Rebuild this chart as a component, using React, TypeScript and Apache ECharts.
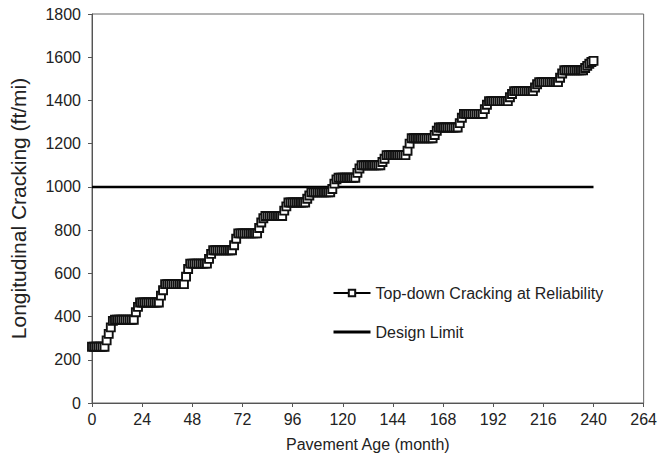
import React, { useEffect, useRef } from "react";
import * as echarts from "echarts";

// Change points [month, value]: value holds until the next change point (step series)
const crackingChangePoints: [number, number][] = [
  [0, 260], [7, 290], [8, 320], [9, 350], [10, 380], [11, 385],
  [21, 420], [22, 445], [23, 465],
  [33, 497], [34, 522], [35, 550],
  [45, 585], [46, 620], [47, 645],
  [56, 667], [57, 690], [58, 707],
  [68, 730], [69, 760], [70, 785],
  [80, 810], [81, 835], [82, 855], [83, 865],
  [92, 890], [93, 910], [94, 928],
  [103, 945], [104, 960], [105, 975],
  [115, 990], [116, 1015], [117, 1035], [118, 1042],
  [127, 1065], [128, 1085], [129, 1100],
  [139, 1115], [140, 1130], [141, 1147],
  [151, 1167], [152, 1200], [153, 1225],
  [164, 1240], [165, 1260], [166, 1275],
  [176, 1295], [177, 1320], [178, 1338],
  [188, 1360], [189, 1380], [190, 1397],
  [200, 1415], [201, 1430], [202, 1443],
  [212, 1460], [213, 1475], [214, 1485],
  [224, 1505], [225, 1525], [226, 1540],
  [236, 1550], [237, 1560], [238, 1570], [239, 1578], [240, 1583],
];
const lastMonth = 240;
const designLimitValue = 1000;
const designLimitMonths = [0, 240];
const xTicks = { min: 0, max: 264, interval: 24 };
const yTicks = { min: 0, max: 1800, interval: 200 };
const seriesNames = ["Top-down Cracking at Reliability", "Design Limit"];
const xAxisName = "Pavement Age (month)";
const yAxisName = "Longitudinal Cracking (ft/mi)";

function buildMonthly(): [number, number][] {
  const out: [number, number][] = [];
  let idx = 0;
  for (let m = 0; m <= lastMonth; m++) {
    while (idx + 1 < crackingChangePoints.length && crackingChangePoints[idx + 1][0] <= m) idx++;
    out.push([m, crackingChangePoints[idx][1]]);
  }
  return out;
}

export default function App() {
  const ref = useRef<HTMLDivElement>(null);
  useEffect(() => {
    if (!ref.current) return;
    const chart = echarts.init(ref.current, null, { renderer: "svg" });
    const font = "'Liberation Sans', Arial, sans-serif";
    const textColor = "#222";
    const clear = "rgba(0,0,0,0)";
    chart.setOption({
      animation: false,
      backgroundColor: "#fff",
      textStyle: { fontFamily: font },
      grid: {
        left: 92, right: 12, top: 14, bottom: 67,
        show: true, borderColor: "#666", borderWidth: 1, backgroundColor: "transparent",
      },
      legend: {
        orient: "vertical",
        left: 327,
        top: 280,
        itemGap: 23,
        itemWidth: 37,
        itemHeight: 8,
        textStyle: { fontFamily: font, fontSize: 16, color: textColor },
        data: [
          { name: seriesNames[0], lineStyle: { width: 2 } },
          {
            name: seriesNames[1],
            itemStyle: { color: clear, borderColor: clear, borderWidth: 0 },
            lineStyle: { color: "#000", width: 3 },
          },
        ],
      },
      xAxis: {
        type: "value",
        min: xTicks.min, max: xTicks.max, interval: xTicks.interval,
        name: xAxisName,
        nameLocation: "middle",
        nameGap: 33,
        nameTextStyle: { fontFamily: font, fontSize: 16, color: textColor },
        axisLine: { show: true, lineStyle: { color: "#555", width: 1 } },
        axisTick: { show: true, inside: false, length: 4, lineStyle: { color: "#555" } },
        axisLabel: { fontFamily: font, fontSize: 16, color: textColor, margin: 8 },
        splitLine: { show: false },
      },
      yAxis: {
        type: "value",
        min: yTicks.min, max: yTicks.max, interval: yTicks.interval,
        name: yAxisName,
        nameLocation: "middle",
        nameGap: 63,
        nameTextStyle: { fontFamily: font, fontSize: 21, color: textColor },
        axisLine: { show: true, lineStyle: { color: "#555", width: 1 } },
        axisTick: { show: true, inside: false, length: 4, lineStyle: { color: "#555" } },
        axisLabel: {
          fontFamily: font, fontSize: 16, color: textColor, margin: 11,
          formatter: (v: number) => String(v),
        },
        splitLine: { show: false },
      },
      series: [
        {
          name: seriesNames[0],
          type: "line",
          data: buildMonthly(),
          symbol: "rect",
          symbolSize: 8,
          showAllSymbol: true,
          lineStyle: { color: "#000", width: 1.5 },
          itemStyle: { color: "#fff", borderColor: "#111", borderWidth: 1.9 },
          z: 3,
        },
        {
          name: seriesNames[1],
          type: "line",
          data: designLimitMonths.map((m) => [m, designLimitValue]),
          symbol: "none",
          lineStyle: { color: "#000", width: 2.5 },
          itemStyle: { color: "#000" },
          z: 2,
        },
      ],
    });
    return () => chart.dispose();
  }, []);
  return <div ref={ref} style={{ width: 660, height: 470, position: "absolute", left: 0, top: 0 }} />;
}
